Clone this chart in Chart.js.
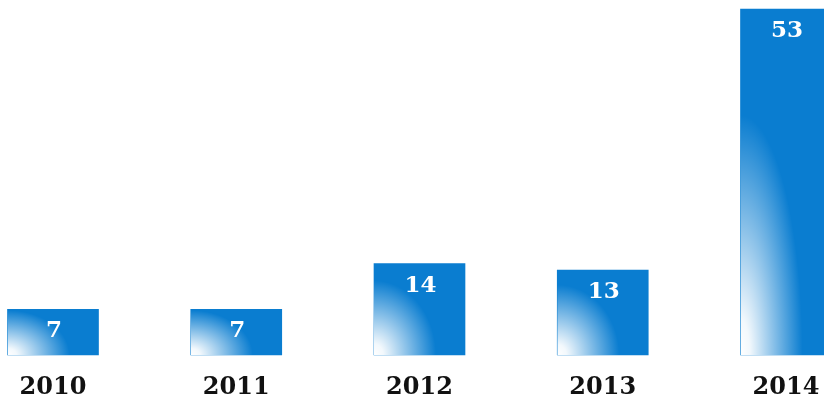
<!DOCTYPE html>
<html>
<head>
<meta charset="utf-8">
<script src="https://cdn.jsdelivr.net/npm/chart.js@4"></script>
<style>
  html, body { margin: 0; padding: 0; background: #fff; }
  #wrap { width: 824px; height: 411px; }
</style>
</head>
<body>
<div id="wrap"><canvas id="yearChart"></canvas></div>
<script>
const years = ['2010', '2011', '2012', '2013', '2014'];
const counts = [7, 7, 14, 13, 53];

const barBlue = '#0a7dd0';

// white glow in the lower-left corner of each bar
const cornerGlow = {
    id: 'cornerGlow',
    afterDatasetsDraw(chart) {
        const ctx = chart.ctx;
        chart.getDatasetMeta(0).data.forEach(function(bar) {
            const p = bar.getProps(['x', 'y', 'base', 'width'], true);
            const left = p.x - p.width / 2;
            const h = p.base - p.y;
            const rx = 62;
            const ry = 0.65 * h + 15;
            ctx.save();
            ctx.beginPath();
            ctx.rect(left, p.y, p.width, h);
            ctx.clip();
            ctx.translate(left, p.base);
            ctx.scale(rx, ry);
            const g = ctx.createRadialGradient(0, 0, 0, 0, 0, 1);
            g.addColorStop(0, 'rgba(255,255,255,1)');
            g.addColorStop(0.15, 'rgba(255,255,255,0.95)');
            g.addColorStop(0.55, 'rgba(255,255,255,0.5)');
            g.addColorStop(1, 'rgba(255,255,255,0)');
            ctx.fillStyle = g;
            ctx.fillRect(0, -h / ry, p.width / rx, h / ry);
            ctx.restore();
        });
    }
};

// numbers written inside the top of each bar
const barValues = {
    id: 'barValues',
    afterDatasetsDraw(chart) {
        const ctx = chart.ctx;
        ctx.save();
        ctx.font = 'bold 23px "DejaVu Serif"';
        ctx.fillStyle = '#ffffff';
        ctx.textAlign = 'center';
        ctx.textBaseline = 'middle';
        chart.getDatasetMeta(0).data.forEach(function(bar, i) {
            ctx.fillText(String(counts[i]), bar.x + 1, bar.y + 22);
        });
        ctx.restore();
    }
};

new Chart(document.getElementById('yearChart'), {
    type: 'bar',
    data: {
        labels: years,
        datasets: [{
            data: counts,
            backgroundColor: barBlue,
            barThickness: 91,
            clip: false
        }]
    },
    options: {
        responsive: true,
        maintainAspectRatio: false,
        animation: false,
        layout: {
            padding: { left: 53, right: 38, top: 9, bottom: 10 }
        },
        plugins: {
            legend: { display: false },
            tooltip: { enabled: false }
        },
        scales: {
            x: {
                offset: false,
                grid: { display: false, drawTicks: false },
                border: { display: false },
                ticks: {
                    padding: 18.5,
                    color: '#111111',
                    font: { family: 'DejaVu Serif', size: 24, weight: 'bold' }
                },
                afterFit(scale) {
                    scale.height = 46;
                    scale.paddingLeft = 0;
                    scale.paddingRight = 0;
                }
            },
            y: {
                display: false,
                min: 0,
                max: 53
            }
        }
    },
    plugins: [cornerGlow, barValues]
});
</script>
</body>
</html>
